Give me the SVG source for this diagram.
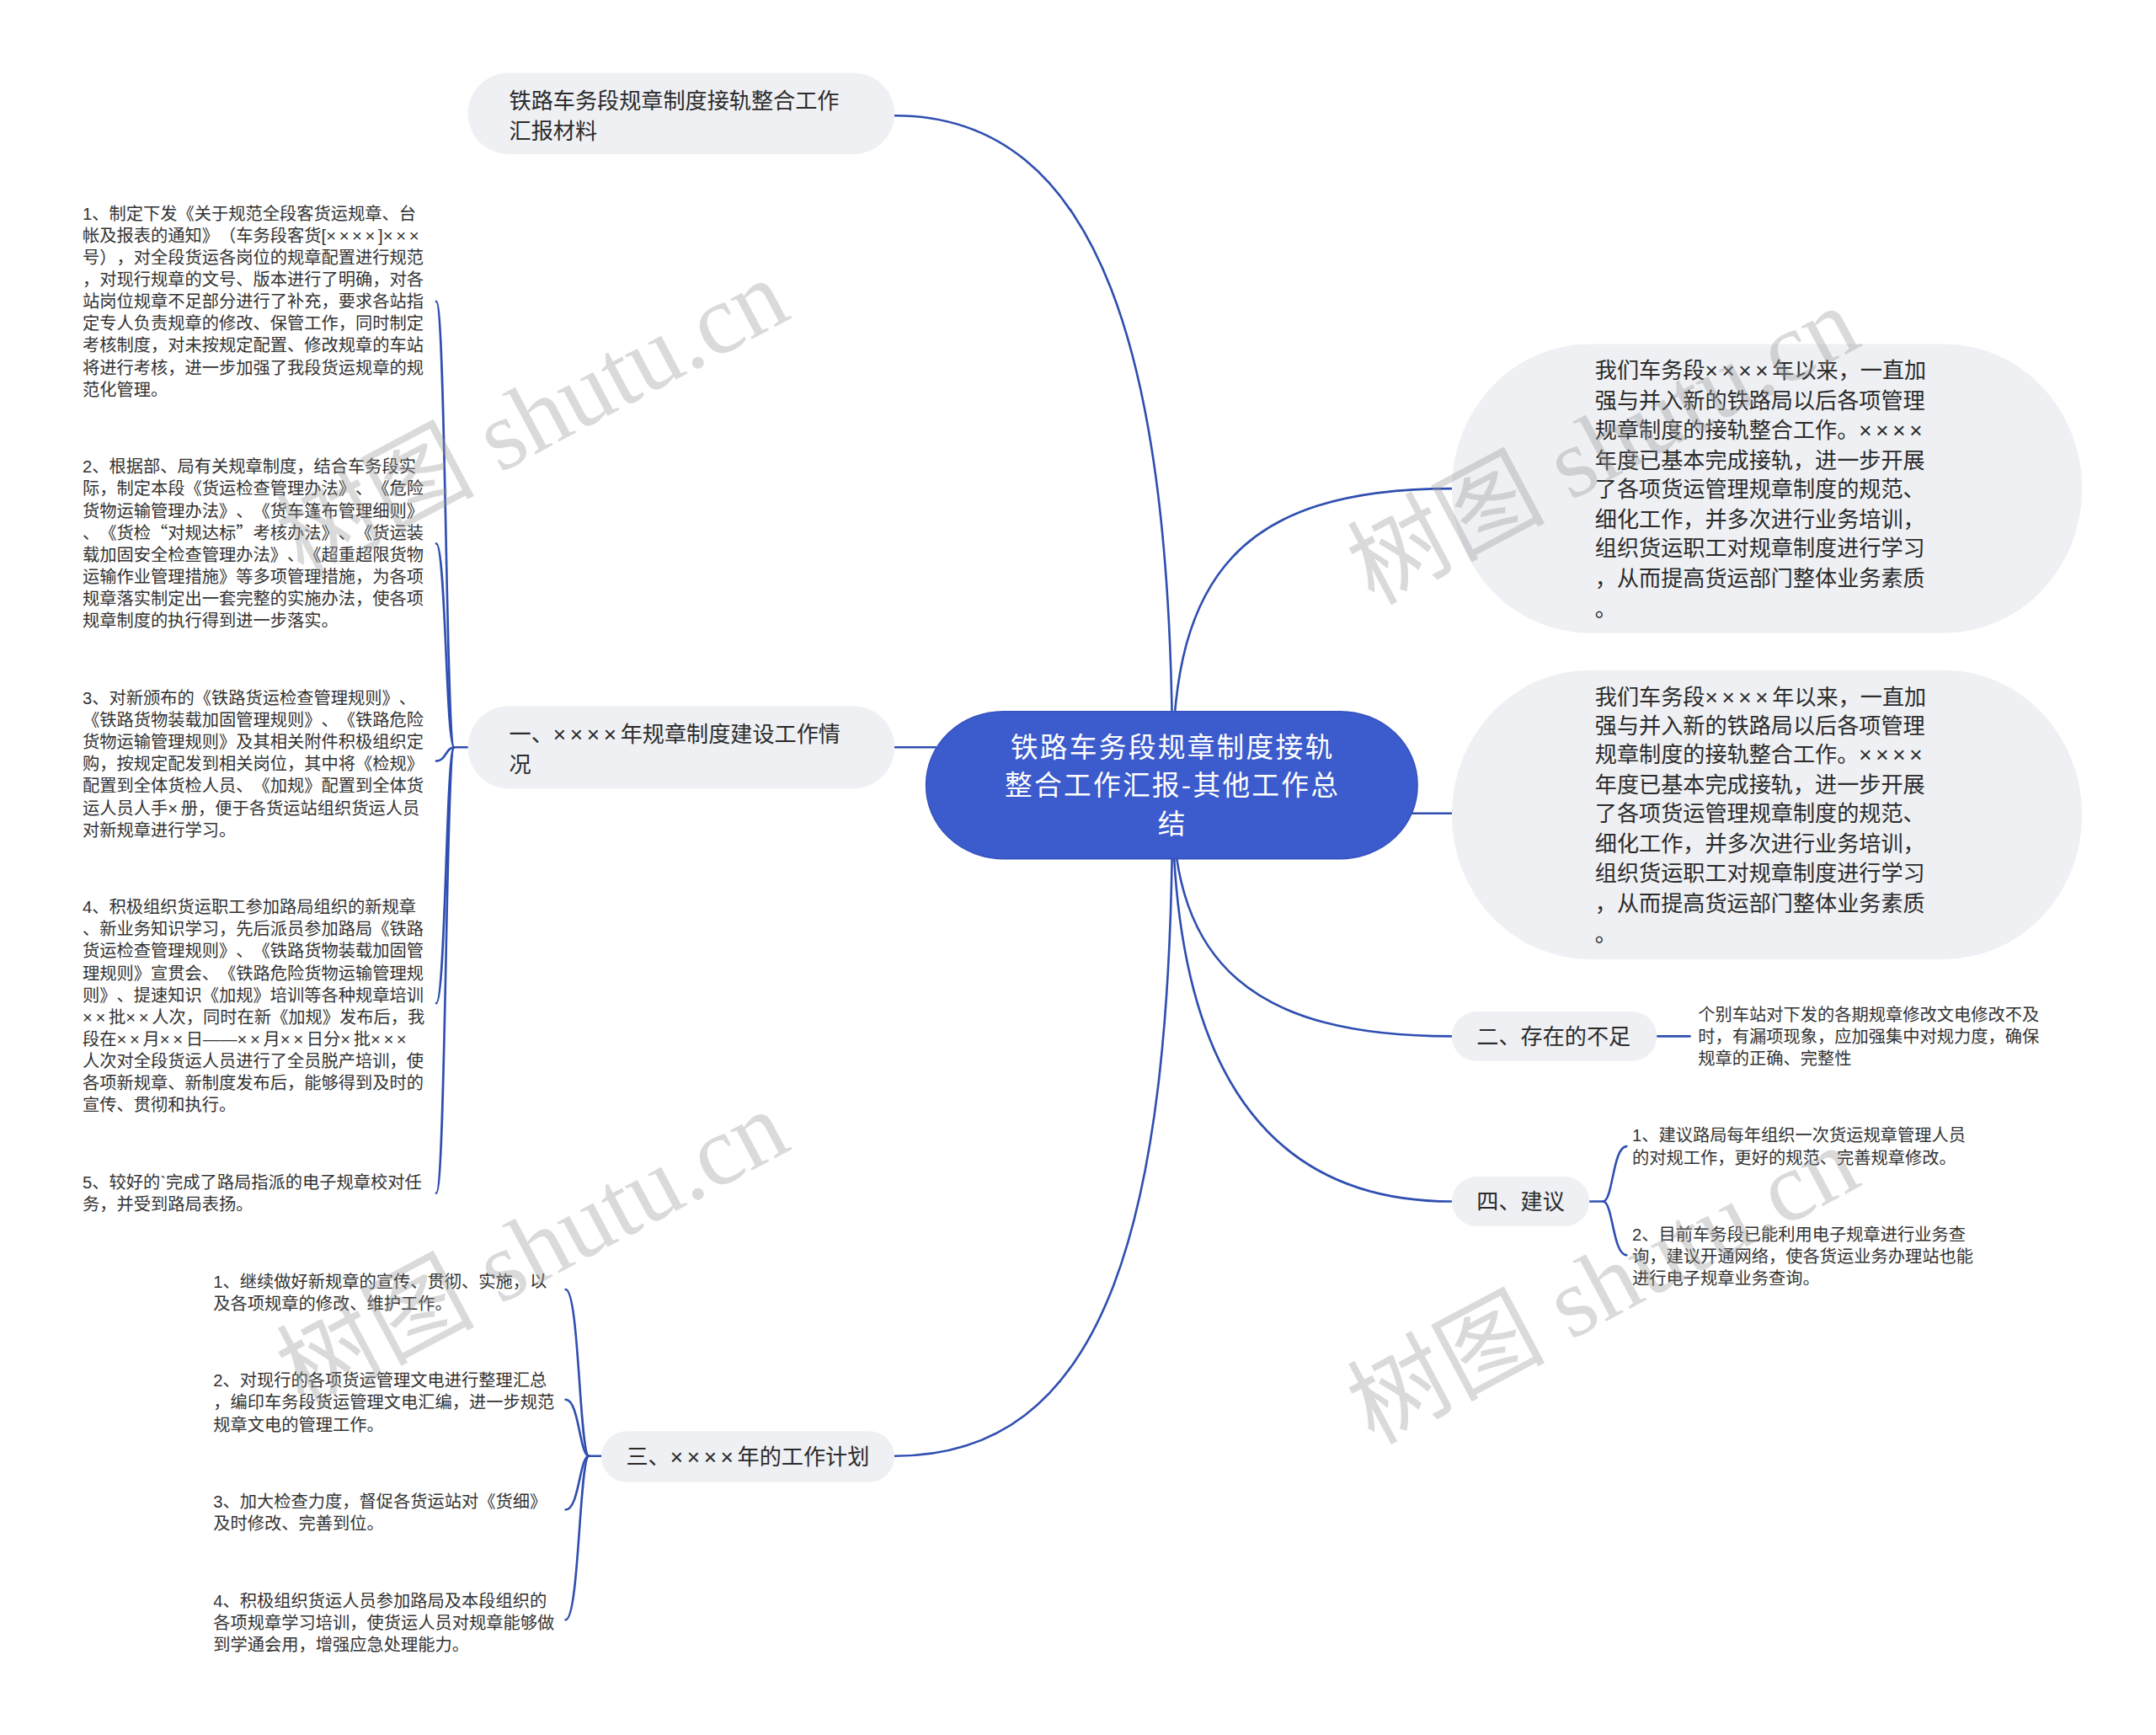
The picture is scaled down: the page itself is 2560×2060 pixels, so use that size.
<svg xmlns="http://www.w3.org/2000/svg" width="2560" height="2060" viewBox="0 0 2560 2060">
<defs>
<style>
.bg{fill:#ffffff}
.pill{fill:#eef0f4}
.root{fill:#3c5bcd;stroke:#3553c0;stroke-width:1}
.edge{fill:none;stroke:#2f4eb0;stroke-width:1.6;stroke-linecap:round}
.t{font-family:"Liberation Sans","Noto Sans CJK SC","Noto Sans CJK TC",sans-serif;fill:#2b2b2b;text-spacing-trim:space-all}
.n16{font-size:16px}
.n12{font-size:12.4px;fill:#333333}
.x{font-family:"Liberation Sans",sans-serif;letter-spacing:0.18em}
.fw{font-family:"Noto Sans CJK SC",sans-serif;font-feature-settings:"fwid"}
.rt{font-family:"Noto Sans CJK SC",sans-serif;font-size:20px;letter-spacing:1.4px;fill:#ffffff;text-anchor:middle}
.wm{font-family:"Liberation Serif","Noto Sans CJK SC",serif;font-size:72px;fill:#9a9a9a;opacity:0.36}
</style>
</defs>
<rect class="bg" x="0" y="0" width="2560" height="2060"/>
<g transform="scale(1.634)">
<g id="connectors">
<path class="edge" d="M852 560 C852 260 800 84 650 84"/>
<path class="edge" d="M650 543 L680 543"/>
<path class="edge" d="M852 560 C852 420 900 355 1055 355"/>
<path class="edge" d="M1025 591 L1055 591"/>
<path class="edge" d="M852 580 C852 700 910 753 1055 753"/>
<path class="edge" d="M852 580 C852 790 930 873 1055 873"/>
<path class="edge" d="M852 580 C852 900 800 1058 650 1058"/>
<path class="edge" d="M1204 753 L1228 753"/>
<path class="edge" d="M340 543 L330 543 C324 543 324 219 317 219"/>
<path class="edge" d="M330 543 C324 543 324 395 317 395"/>
<path class="edge" d="M330 543 C324 543 324 553 317 553"/>
<path class="edge" d="M330 543 C324 543 324 729 317 729"/>
<path class="edge" d="M330 543 C324 543 324 867 317 867"/>
<path class="edge" d="M437 1058 L428 1058 C421 1058 421 937 411 937"/>
<path class="edge" d="M428 1058 C421 1058 421 1017 411 1017"/>
<path class="edge" d="M428 1058 C421 1058 421 1097 411 1097"/>
<path class="edge" d="M428 1058 C421 1058 421 1177 411 1177"/>
<path class="edge" d="M1155 873 L1165 873 C1172 873 1172 833 1182 833"/>
<path class="edge" d="M1165 873 C1172 873 1172 912 1182 912"/>
</g>
<g id="root">
<rect class="root" x="673" y="517" width="357" height="107" rx="56" ry="53"/>
<text class="rt" x="852" y="550">铁路车务段规章制度接轨</text>
<text class="rt" x="852" y="578">整合工作汇报-其他工作总</text>
<text class="rt" x="852" y="606">结</text>
</g>
<g id="node-top">
<rect class="pill" x="340" y="53" width="310" height="59" rx="29.5"/>
<text class="t n16" x="370" y="79">铁路车务段规章制度接轨整合工作</text>
<text class="t n16" x="370" y="101">汇报材料</text>
</g>
<g id="node-1">
<rect class="pill" x="340" y="513" width="310" height="60" rx="30"/>
<text class="t n16" x="370" y="539">一、<tspan class="x">××××</tspan>年规章制度建设工作情</text>
<text class="t n16" x="370" y="561">况</text>
</g>
<g id="leaf-1-1">
<text class="t n12" x="60" y="159.5">1、制定下发《关于规范全段客货运规章、台</text>
<text class="t n12" x="60" y="175.5">帐及报表的通知》（车务段客货[<tspan class="x">××××</tspan>]<tspan class="x">×××</tspan></text>
<text class="t n12" x="60" y="191.5">号），对全段货运各岗位的规章配置进行规范</text>
<text class="t n12" x="60" y="207.5">，对现行规章的文号、版本进行了明确，对各</text>
<text class="t n12" x="60" y="223.5">站岗位规章不足部分进行了补充，要求各站指</text>
<text class="t n12" x="60" y="239.5">定专人负责规章的修改、保管工作，同时制定</text>
<text class="t n12" x="60" y="255.5">考核制度，对未按规定配置、修改规章的车站</text>
<text class="t n12" x="60" y="271.5">将进行考核，进一步加强了我段货运规章的规</text>
<text class="t n12" x="60" y="287.5">范化管理。</text>
</g>
<g id="leaf-1-2">
<text class="t n12" x="60" y="343.5">2、根据部、局有关规章制度，结合车务段实</text>
<text class="t n12" x="60" y="359.5">际，制定本段《货运检查管理办法》、《危险</text>
<text class="t n12" x="60" y="375.5">货物运输管理办法》、《货车篷布管理细则》</text>
<text class="t n12" x="60" y="391.5">、《货检<tspan class="fw">“</tspan>对规达标<tspan class="fw">”</tspan>考核办法》、《货运装</text>
<text class="t n12" x="60" y="407.5">载加固安全检查管理办法》、《超重超限货物</text>
<text class="t n12" x="60" y="423.5">运输作业管理措施》等多项管理措施，为各项</text>
<text class="t n12" x="60" y="439.5">规章落实制定出一套完整的实施办法，使各项</text>
<text class="t n12" x="60" y="455.5">规章制度的执行得到进一步落实。</text>
</g>
<g id="leaf-1-3">
<text class="t n12" x="60" y="511.5">3、对新颁布的《铁路货运检查管理规则》、</text>
<text class="t n12" x="60" y="527.5">《铁路货物装载加固管理规则》、《铁路危险</text>
<text class="t n12" x="60" y="543.5">货物运输管理规则》及其相关附件积极组织定</text>
<text class="t n12" x="60" y="559.5">购，按规定配发到相关岗位，其中将《检规》</text>
<text class="t n12" x="60" y="575.5">配置到全体货检人员、《加规》配置到全体货</text>
<text class="t n12" x="60" y="591.5">运人员人手<tspan class="x">×</tspan>册，便于各货运站组织货运人员</text>
<text class="t n12" x="60" y="607.5">对新规章进行学习。</text>
</g>
<g id="leaf-1-4">
<text class="t n12" x="60" y="663.5">4、积极组织货运职工参加路局组织的新规章</text>
<text class="t n12" x="60" y="679.5">、新业务知识学习，先后派员参加路局《铁路</text>
<text class="t n12" x="60" y="695.5">货运检查管理规则》、《铁路货物装载加固管</text>
<text class="t n12" x="60" y="711.5">理规则》宣贯会、《铁路危险货物运输管理规</text>
<text class="t n12" x="60" y="727.5">则》、提速知识《加规》培训等各种规章培训</text>
<text class="t n12" x="60" y="743.5"><tspan class="x">××</tspan>批<tspan class="x">××</tspan>人次，同时在新《加规》发布后，我</text>
<text class="t n12" x="60" y="759.5">段在<tspan class="x">××</tspan>月<tspan class="x">××</tspan>日——<tspan class="x">××</tspan>月<tspan class="x">××</tspan>日分<tspan class="x">×</tspan>批<tspan class="x">×××</tspan></text>
<text class="t n12" x="60" y="775.5">人次对全段货运人员进行了全员脱产培训，使</text>
<text class="t n12" x="60" y="791.5">各项新规章、新制度发布后，能够得到及时的</text>
<text class="t n12" x="60" y="807.5">宣传、贯彻和执行。</text>
</g>
<g id="leaf-1-5">
<text class="t n12" x="60" y="863.5">5、较好的`完成了路局指派的电子规章校对任</text>
<text class="t n12" x="60" y="879.5">务，并受到路局表扬。</text>
</g>
<g id="node-3">
<rect class="pill" x="437" y="1040" width="213" height="37" rx="18.5"/>
<text class="t n16" x="455" y="1064">三、<tspan class="x">××××</tspan>年的工作计划</text>
</g>
<g id="leaf-3-1">
<text class="t n12" x="155" y="935.5">1、继续做好新规章的宣传、贯彻、实施，以</text>
<text class="t n12" x="155" y="951.5">及各项规章的修改、维护工作。</text>
</g>
<g id="leaf-3-2">
<text class="t n12" x="155" y="1007.5">2、对现行的各项货运管理文电进行整理汇总</text>
<text class="t n12" x="155" y="1023.5">，编印车务段货运管理文电汇编，进一步规范</text>
<text class="t n12" x="155" y="1039.5">规章文电的管理工作。</text>
</g>
<g id="leaf-3-3">
<text class="t n12" x="155" y="1095.5">3、加大检查力度，督促各货运站对《货细》</text>
<text class="t n12" x="155" y="1111.5">及时修改、完善到位。</text>
</g>
<g id="leaf-3-4">
<text class="t n12" x="155" y="1167.5">4、积极组织货运人员参加路局及本段组织的</text>
<text class="t n12" x="155" y="1183.5">各项规章学习培训，使货运人员对规章能够做</text>
<text class="t n12" x="155" y="1199.5">到学通会用，增强应急处理能力。</text>
</g>
<g id="bubble-1">
<rect class="pill" x="1055" y="250" width="458" height="210" rx="100" ry="105"/>
<text class="t n16" x="1159" y="275">我们车务段<tspan class="x">××××</tspan>年以来，一直加</text>
<text class="t n16" x="1159" y="297">强与并入新的铁路局以后各项管理</text>
<text class="t n16" x="1159" y="318">规章制度的接轨整合工作。<tspan class="x">××××</tspan></text>
<text class="t n16" x="1159" y="340">年度已基本完成接轨，进一步开展</text>
<text class="t n16" x="1159" y="361">了各项货运管理规章制度的规范、</text>
<text class="t n16" x="1159" y="383">细化工作，并多次进行业务培训，</text>
<text class="t n16" x="1159" y="404">组织货运职工对规章制度进行学习</text>
<text class="t n16" x="1159" y="426">，从而提高货运部门整体业务素质</text>
<text class="t n16" x="1159" y="448">。</text>
</g>
<g id="bubble-2">
<rect class="pill" x="1055" y="487" width="458" height="210" rx="100" ry="105"/>
<text class="t n16" x="1159" y="512">我们车务段<tspan class="x">××××</tspan>年以来，一直加</text>
<text class="t n16" x="1159" y="533">强与并入新的铁路局以后各项管理</text>
<text class="t n16" x="1159" y="554">规章制度的接轨整合工作。<tspan class="x">××××</tspan></text>
<text class="t n16" x="1159" y="576">年度已基本完成接轨，进一步开展</text>
<text class="t n16" x="1159" y="597">了各项货运管理规章制度的规范、</text>
<text class="t n16" x="1159" y="619">细化工作，并多次进行业务培训，</text>
<text class="t n16" x="1159" y="640">组织货运职工对规章制度进行学习</text>
<text class="t n16" x="1159" y="662">，从而提高货运部门整体业务素质</text>
<text class="t n16" x="1159" y="684">。</text>
</g>
<g id="node-2">
<rect class="pill" x="1055" y="735" width="149" height="36" rx="18"/>
<text class="t n16" x="1073" y="759">二、存在的不足</text>
</g>
<g id="leaf-2-1">
<text class="t n12" x="1234" y="741.5">个别车站对下发的各期规章修改文电修改不及</text>
<text class="t n12" x="1234" y="757.5">时，有漏项现象，应加强集中对规力度，确保</text>
<text class="t n12" x="1234" y="773.5">规章的正确、完整性</text>
</g>
<g id="node-4">
<rect class="pill" x="1055" y="855" width="100" height="36" rx="18"/>
<text class="t n16" x="1073" y="879">四、建议</text>
</g>
<g id="leaf-4-1">
<text class="t n12" x="1186" y="829.5">1、建议路局每年组织一次货运规章管理人员</text>
<text class="t n12" x="1186" y="845.5">的对规工作，更好的规范、完善规章修改。</text>
</g>
<g id="leaf-4-2">
<text class="t n12" x="1186" y="901.5">2、目前车务段已能利用电子规章进行业务查</text>
<text class="t n12" x="1186" y="917.5">询，建议开通网络，使各货运业务办理站也能</text>
<text class="t n12" x="1186" y="933.5">进行电子规章业务查询。</text>
</g>
<g id="watermarks">
<text class="wm" transform="translate(220 420) rotate(-28)">树图 shutu.cn</text>
<text class="wm" transform="translate(998 440) rotate(-28)">树图 shutu.cn</text>
<text class="wm" transform="translate(220 1024) rotate(-28)">树图 shutu.cn</text>
<text class="wm" transform="translate(998 1050) rotate(-28)">树图 shutu.cn</text>
</g>
</g>
</svg>
